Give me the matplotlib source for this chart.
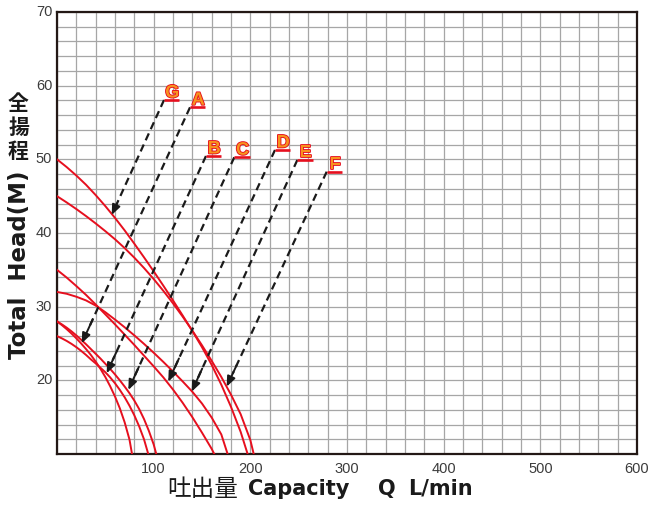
import matplotlib
matplotlib.use("Agg")
import matplotlib.pyplot as plt
import matplotlib.patheffects as pe
import numpy as np

# ---- data (Q in L/min, head in m) ----
curve_G_x = [0, 10, 20, 30, 40, 50, 60, 70, 80, 90, 100, 110, 120, 130, 140, 150, 160, 170, 180, 190, 197.2]
curve_G_y = [50, 48.95, 47.8, 46.55, 45.15, 43.65, 42.05, 40.35, 38.55, 36.7, 34.8, 32.85, 30.85,
             28.8, 26.7, 24.5, 22.1, 19.4, 16.4, 13.0, 10]
curve_F_x = [0, 10, 20, 30, 40, 50, 60, 70, 80, 90, 100, 110, 120, 130, 140, 150, 160, 170, 180, 190, 200, 203.5]
curve_F_y = [45, 44.15, 43.25, 42.3, 41.3, 40.25, 39.15, 37.95, 36.65, 35.25, 33.75, 32.15, 30.45,
             28.65, 26.75, 24.75, 22.65, 20.45, 18.05, 15.4, 11.9, 10]
curve_D_x = [0, 10, 20, 30, 40, 50, 60, 70, 80, 90, 100, 110, 120, 130, 140, 150, 160, 162.7]
curve_D_y = [35, 33.95, 32.8, 31.6, 30.3, 28.95, 27.6, 26.2, 24.8, 23.35, 21.9, 20.4, 18.75,
             16.95, 15.0, 12.9, 10.7, 10]
curve_E_x = [0, 10, 20, 30, 40, 50, 60, 70, 80, 90, 100, 110, 120, 130, 140, 150, 160, 170, 176.5]
curve_E_y = [32, 31.75, 31.35, 30.85, 30.15, 29.25, 28.25, 27.2, 26.1, 24.95, 23.75, 22.5, 21.2,
             19.85, 18.45, 16.85, 14.95, 12.65, 10]
curve_A_x = [0, 5, 10, 15, 20, 25, 30, 35, 40, 45, 50, 55, 60, 65, 70, 75, 77.6]
curve_A_y = [28, 27.5, 26.95, 26.35, 25.7, 25.0, 24.25, 23.45, 22.55, 21.55, 20.45, 19.2, 17.8,
             16.2, 14.3, 11.95, 10]
curve_B_x = [0, 5, 10, 15, 20, 25, 30, 35, 40, 45, 50, 55, 60, 65, 70, 75, 80, 85, 90, 94.4]
curve_B_y = [26, 25.7, 25.35, 24.95, 24.5, 24.0, 23.45, 22.85, 22.3, 21.7, 21.1, 20.4, 19.6,
             18.7, 17.7, 16.55, 15.25, 13.75, 12.0, 10]
curve_C_x = [0, 5, 10, 15, 20, 25, 30, 35, 40, 45, 50, 55, 60, 65, 70, 75, 80, 85, 90, 95, 100, 102.7]
curve_C_y = [28, 27.6, 27.15, 26.65, 26.1, 25.5, 24.9, 24.25, 23.6, 22.95, 22.25, 21.55, 20.8,
             20.0, 19.15, 18.25, 17.25, 16.1, 14.75, 13.15, 11.3, 10]

labels = ["G", "A", "B", "C", "D", "E", "F"]
arrow_start_x = [110.7, 137.6, 154.1, 183.4, 225.5, 248.6, 279.0]
arrow_start_y = [58.05, 57.06, 50.45, 50.28, 51.27, 49.91, 48.32]
arrow_end_x = [56.6, 25.6, 51.4, 73.8, 115.1, 139.3, 175.5]
arrow_end_y = [42.44, 25.03, 20.96, 18.69, 19.82, 18.46, 19.14]

x_tick_labels = ["100", "200", "300", "400", "500", "600"]
y_tick_labels = ["20", "30", "40", "50", "60", "70"]

RED = "#e60f1e"
ORANGE = "#f7931e"
INK = "#1a1a1a"

fig = plt.figure(figsize=(6.51, 5.07), dpi=100)
ax = fig.add_axes([57 / 651, 1 - 454 / 507, 580 / 651, 442 / 507])
ax.set_xlim(0, 600)
ax.set_ylim(10, 70)

# grid
ax.set_xticks(np.arange(0, 601, 20))
ax.set_yticks(np.arange(10, 71, 2))
ax.grid(True, color="#a6a6a6", lw=0.9, zorder=0)
ax.tick_params(length=0, labelbottom=False, labelleft=False)

for v, s in zip(range(100, 601, 100), x_tick_labels):
    ax.text(v, 8.9, s, ha="center", va="top", fontsize=10.5, color="#3c3c3c",
            family="Liberation Sans", clip_on=False)
for v, s in zip(range(20, 71, 10), y_tick_labels):
    ax.text(-5, v, s, ha="right", va="center", fontsize=10.5, color="#3c3c3c",
            family="Liberation Sans", clip_on=False)

for sp in ax.spines.values():
    sp.set_color("#231815")
    sp.set_linewidth(1.6)

curves = [(curve_G_x, curve_G_y), (curve_F_x, curve_F_y), (curve_D_x, curve_D_y),
          (curve_E_x, curve_E_y), (curve_A_x, curve_A_y), (curve_B_x, curve_B_y),
          (curve_C_x, curve_C_y)]
for cx, cy in curves:
    ax.plot(cx, cy, color=RED, lw=1.4, zorder=3, solid_joinstyle="round")

for lab, sx, sy, ex, ey in zip(labels, arrow_start_x, arrow_start_y, arrow_end_x, arrow_end_y):
    # dashed shaft
    t = 0.94
    mx, my = sx + (ex - sx) * t, sy + (ey - sy) * t
    ax.plot([sx, mx], [sy, my], color=INK, lw=1.6, dashes=(3.4, 2.1), zorder=4,
            dash_capstyle="butt")
    t2 = 0.90
    hx, hy = sx + (ex - sx) * t2, sy + (ey - sy) * t2
    ax.annotate("", xy=(ex, ey), xytext=(hx, hy),
                arrowprops=dict(arrowstyle="-|>,head_length=0.6,head_width=0.25",
                                color=INK, lw=1.4, shrinkA=0, shrinkB=0),
                zorder=5)
    # underline
    ax.plot([sx, sx + 16], [sy, sy], color=RED, lw=1.9, zorder=4, solid_capstyle="butt")
    ax.text(sx + 8.5, sy + 0.35, lab, ha="center", va="baseline", fontsize=13,
            fontweight="bold", family="Liberation Sans", color=ORANGE, zorder=6,
            path_effects=[pe.withStroke(linewidth=1.3, foreground=RED)])

# axis labels
fig.text(19.5 / 651, 1 - 265 / 507, "Total  Head(M)", rotation=90, ha="center", va="center",
         fontsize=16.5, fontweight="bold", family="DejaVu Sans", color=INK)
for i, ch in enumerate("全揚程"):
    fig.text(18.5 / 651, 1 - (104 + i * 24) / 507, ch, ha="center", va="center",
             fontsize=15, fontweight="bold", family="Noto Sans CJK JP", color=INK)

fig.text(202.5 / 651, 1 - 489 / 507, "吐出量", ha="center", va="center",
         fontsize=17, family="Noto Sans CJK JP", color=INK)
for xpos, s in [(248, "Capacity"), (378, "Q"), (408, "L/min")]:
    fig.text(xpos / 651, 1 - 489 / 507, s, ha="left", va="center",
             fontsize=15, fontweight="bold", family="DejaVu Sans", color=INK)

fig.savefig("out.png", dpi=100)
